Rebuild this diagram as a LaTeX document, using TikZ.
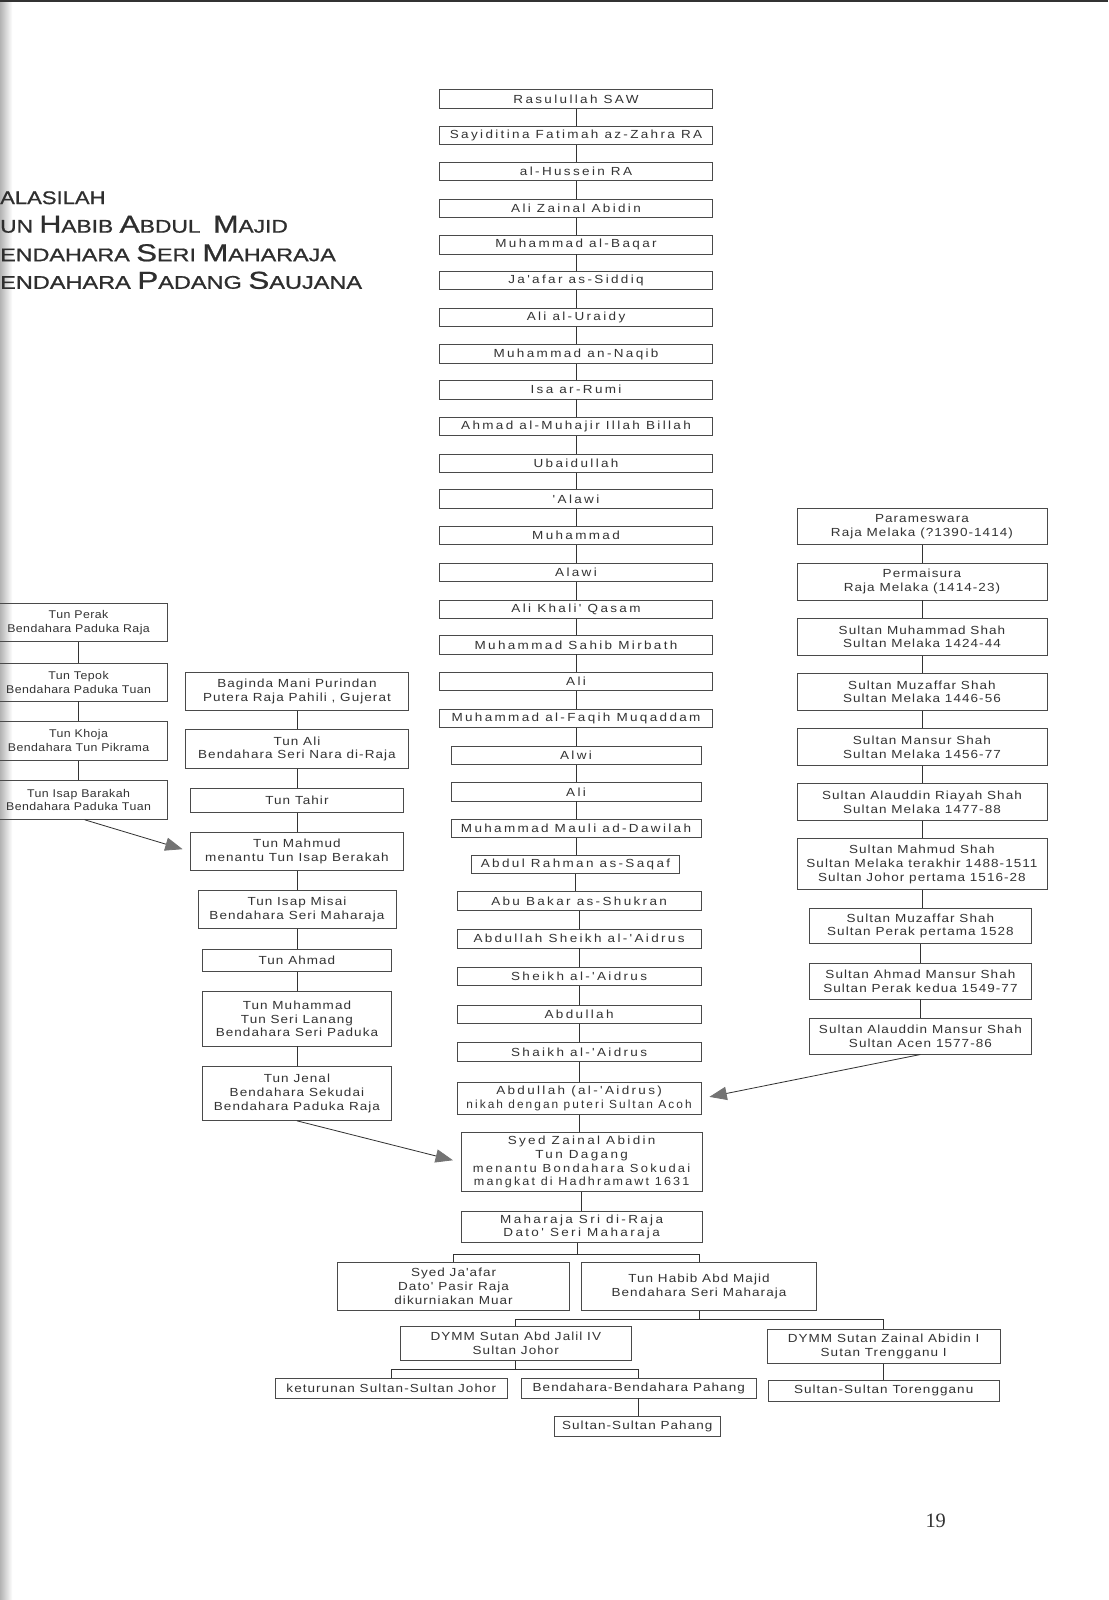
\documentclass[tikz,border=0pt]{standalone}
\usepackage{fontspec}
\setmainfont{Liberation Sans}
\newfontfamily\cfont{Liberation Sans}[FakeStretch=1.15,LetterSpace=20]
\newfontfamily\sfont{Liberation Sans}[FakeStretch=1.15,LetterSpace=9]
\newfontfamily\lfont{Liberation Sans}[FakeStretch=1.1,LetterSpace=4]
\newfontfamily\tfont{Liberation Sans}[FakeBold=0.8]
\newfontfamily\pfont{Liberation Serif}
\usetikzlibrary{arrows.meta}
\definecolor{ink}{HTML}{333333}
\definecolor{edgec}{HTML}{4a4a4a}
\newcommand\Sc[1]{{\fontsize{18}{18}\selectfont #1}}
\newcommand\Bc[1]{{\fontsize{24}{24}\selectfont #1}}
\newcommand\bx[7]{\node[#1, minimum width={#4pt-#3pt}, minimum height={#6pt-#5pt}] (#2) at ({(#3+#4)/2},{(#5+#6)/2}) {#7};}
\begin{document}
\begin{tikzpicture}[x=1pt,y=-1pt,
  gbox/.style={draw=edgec, line width=0.8pt, inner sep=0pt, align=center, text=ink, font=\sfont\fontsize{11.5}{13.5}\selectfont},
  cbox/.style={gbox, font=\cfont\fontsize{11.5}{13.5}\selectfont},
  lbox/.style={gbox, font=\lfont\fontsize{11}{13.5}\selectfont},
  link/.style={draw=black!80, line width=0.8pt},
  gar/.style={link, -{Triangle[length=17pt,width=13pt,color=black!55]}, shorten >=8pt},
  ttl/.style={anchor=base west, inner sep=0pt, text=black!82, font=\tfont}]
\useasboundingbox (0,0) rectangle (1086,1568);
\fill[white] (0,0) rectangle (1086,1568);
% scan edges
\shade[left color=black!30, right color=white] (0,0) rectangle (12,1568);
\fill[black!80] (0,0) rectangle (1086,2);

% title
\node[ttl] (t1) at (0,200) {\scalebox{1.2}[1]{\Sc{ALASILAH}}};
\node[ttl] (t2) at (0,228) {\scalebox{1.24}[1]{\Sc{UN }\Bc{H}\Sc{ABIB }\Bc{A}\Sc{BDUL}\hspace{10pt}\Bc{M}\Sc{AJID}}};
\node[ttl] (t3) at (0,256) {\scalebox{1.27}[1]{\Sc{ENDAHARA }\Bc{S}\Sc{ERI }\Bc{M}\Sc{AHARAJA}}};
\node[ttl] (t4) at (0,283) {\scalebox{1.28}[1]{\Sc{ENDAHARA }\Bc{P}\Sc{ADANG }\Bc{S}\Sc{AUJANA}}};

% centre column
\bx{cbox}{c0}{431}{698}{88}{106}{Rasulullah SAW}
\bx{cbox}{c1}{431}{698}{124}{142}{Sayiditina Fatimah az-Zahra RA}
\bx{cbox}{c2}{431}{698}{159}{177}{al-Hussein RA}
\bx{cbox}{c3}{431}{698}{195}{213}{Ali Zainal Abidin}
\bx{cbox}{c4}{431}{698}{231}{249}{Muhammad al-Baqar}
\bx{cbox}{c5}{431}{698}{266}{284}{Ja'afar as-Siddiq}
\bx{cbox}{c6}{431}{698}{302}{320}{Ali al-Uraidy}
\bx{cbox}{c7}{431}{698}{338}{356}{Muhammad an-Naqib}
\bx{cbox}{c8}{431}{698}{373}{391}{Isa ar-Rumi}
\bx{cbox}{c9}{431}{698}{409}{427}{Ahmad al-Muhajir Illah Billah}
\bx{cbox}{c10}{431}{698}{445}{463}{Ubaidullah}
\bx{cbox}{c11}{431}{698}{480}{498}{'Alawi}
\bx{cbox}{c12}{431}{698}{516}{534}{Muhammad}
\bx{cbox}{c13}{431}{698}{552}{570}{Alawi}
\bx{cbox}{c14}{431}{698}{588}{606}{Ali Khali' Qasam}
\bx{cbox}{c15}{431}{698}{623}{641}{Muhammad Sahib Mirbath}
\bx{cbox}{c16}{431}{698}{659}{677}{Ali}
\bx{cbox}{c17}{431}{698}{695}{713}{Muhammad al-Faqih Muqaddam}
\bx{cbox}{c18}{442}{687}{731}{749}{Alwi}
\bx{cbox}{c19}{442}{687}{767}{785}{Ali}
\bx{cbox}{c20}{442}{687}{803}{821}{Muhammad Mauli ad-Dawilah}
\bx{cbox}{c21}{462}{666}{838}{856}{Abdul Rahman as-Saqaf}
\bx{cbox}{c22}{448}{687}{874}{892}{Abu Bakar as-Shukran}
\bx{cbox}{c23}{448}{687}{911}{929}{Abdullah Sheikh al-'Aidrus}
\bx{cbox}{c24}{448}{687}{948}{966}{Sheikh al-'Aidrus}
\bx{cbox}{c25}{448}{687}{985}{1003}{Abdullah}
\bx{cbox}{c26}{448}{687}{1022}{1040}{Shaikh al-'Aidrus}
\bx{cbox}{c27}{448}{687}{1061}{1092}{Abdullah (al-'Aidrus)\\\scalebox{0.88}[1]{nikah dengan puteri Sultan Acoh}}
\bx{cbox}{c28}{452}{688}{1110}{1168}{Syed Zainal Abidin\\Tun Dagang\\\scalebox{0.96}[1]{menantu Bondahara Sokudai}\\\scalebox{0.93}[1]{mangkat di Hadhramawt 1631}}
\bx{cbox}{c29}{452}{688}{1187}{1218}{Maharaja Sri di-Raja\\Dato' Seri Maharaja}
\foreach \i [evaluate=\i as \j using int(\i+1)] in {0,...,28}
  \draw[link] (c\i.south) -- (c\i.south |- c\j.north);

% right column
\bx{gbox}{r0}{781}{1026}{498}{534}{Parameswara\\Raja Melaka (?1390-1414)}
\bx{gbox}{r1}{781}{1026}{552}{588}{Permaisura\\Raja Melaka (1414-23)}
\bx{gbox}{r2}{781}{1026}{606}{642}{Sultan Muhammad Shah\\Sultan Melaka 1424-44}
\bx{gbox}{r3}{781}{1026}{660}{696}{Sultan Muzaffar Shah\\Sultan Melaka 1446-56}
\bx{gbox}{r4}{781}{1026}{714}{750}{Sultan Mansur Shah\\Sultan Melaka 1456-77}
\bx{gbox}{r5}{781}{1026}{768}{804}{Sultan Alauddin Riayah Shah\\Sultan Melaka 1477-88}
\bx{gbox}{r6}{781}{1026}{822}{872}{Sultan Mahmud Shah\\Sultan Melaka terakhir 1488-1511\\Sultan Johor pertama 1516-28}
\bx{gbox}{r7}{793}{1011}{890}{925}{Sultan Muzaffar Shah\\Sultan Perak pertama 1528}
\bx{gbox}{r8}{793}{1011}{944}{979}{Sultan Ahmad Mansur Shah\\Sultan Perak kedua 1549-77}
\bx{gbox}{r9}{793}{1011}{998}{1033}{Sultan Alauddin Mansur Shah\\Sultan Acen 1577-86}
\foreach \i [evaluate=\i as \j using int(\i+1)] in {0,...,8}
  \draw[link] (r\i.south) -- (r\i.south |- r\j.north);

% left column
\bx{lbox}{l0}{-10}{164}{591}{629}{Tun Perak\\Bendahara Paduka Raja}
\bx{lbox}{l1}{-10}{164}{650}{687}{Tun Tepok\\Bendahara Paduka Tuan}
\bx{lbox}{l2}{-10}{164}{707}{745}{Tun Khoja\\Bendahara Tun Pikrama}
\bx{lbox}{l3}{-10}{164}{765}{803}{Tun Isap Barakah\\Bendahara Paduka Tuan}
\foreach \i [evaluate=\i as \j using int(\i+1)] in {0,...,2}
  \draw[link] (l\i.south) -- (l\i.south |- l\j.north);

% middle-left column
\bx{gbox}{m0}{182}{400}{659}{696}{Baginda Mani Purindan\\Putera Raja Pahili , Gujerat}
\bx{gbox}{m1}{182}{400}{715}{753}{Tun Ali\\Bendahara Seri Nara di-Raja}
\bx{gbox}{m2}{187}{395}{773}{796}{Tun Tahir}
\bx{gbox}{m3}{187}{395}{816}{853}{Tun Mahmud\\menantu Tun Isap Berakah}
\bx{gbox}{m4}{194}{388}{873}{910}{Tun Isap Misai\\Bendahara Seri Maharaja}
\bx{gbox}{m5}{198}{384}{930}{952}{Tun Ahmad}
\bx{gbox}{m6}{198}{384}{972}{1025}{Tun Muhammad\\Tun Seri Lanang\\Bendahara Seri Paduka}
\bx{gbox}{m7}{198}{384}{1045}{1098}{Tun Jenal\\Bendahara Sekudai\\Bendahara Paduka Raja}
\foreach \i [evaluate=\i as \j using int(\i+1)] in {0,...,6}
  \draw[link] (m\i.south) -- (m\i.south |- m\j.north);

% bottom tree
\bx{gbox}{b0}{331}{558}{1237}{1284}{Syed Ja'afar\\Dato' Pasir Raja\\dikurniakan Muar}
\bx{gbox}{b1}{570}{800}{1237}{1284}{Tun Habib Abd Majid\\Bendahara Seri Maharaja}
\bx{gbox}{b2}{392}{619}{1300}{1333}{DYMM Sutan Abd Jalil IV\\Sultan Johor}
\bx{gbox}{b3}{752}{980}{1303}{1336}{DYMM Sutan Zainal Abidin I\\Sutan Trengganu I}
\bx{gbox}{b4}{270}{497}{1351}{1370}{keturunan Sultan-Sultan Johor}
\bx{gbox}{b5}{511}{741}{1351}{1370}{Bendahara-Bendahara Pahang}
\bx{gbox}{b6}{543}{706}{1388}{1408}{Sultan-Sultan Pahang}
\bx{gbox}{b7}{753}{979}{1353}{1373}{Sultan-Sultan Torengganu}
\coordinate (j1) at (566,1229);
\coordinate (j2) at (685,1293);
\coordinate (j3) at (505.5,1342);
\draw[link] (c29.south -| j1) -- (j1);
\draw[link] (b0.north) |- (j1) -| (b1.north);
\draw[link] (b1.south) -- (b1.south |- j2);
\draw[link] (b2.north) |- (j2) -| (b3.north);
\draw[link] (b2.south) -- (b2.south |- j3);
\draw[link] (b4.north) |- (j3) -| (b5.north);
\draw[link] (b5.south) -- (b5.south |- b6.north);
\draw[link] (b3.south) -- (b3.south |- b7.north);

% marriage arrows
\draw[gar] ([xshift=6pt]l3.south) -- (m3.west);
\draw[gar] (m7.south) -- (c28.west);
\draw[gar] (r9.south) -- (c27.east);

% page number
\node[font=\pfont\fontsize{20}{20}\selectfont, text=ink] (pg) at (917,1490) {19};
\end{tikzpicture}
\end{document}
